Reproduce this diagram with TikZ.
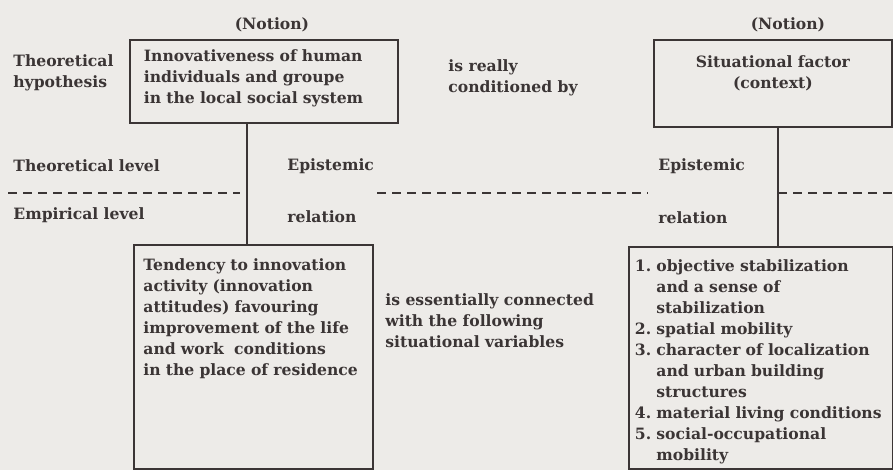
\documentclass[tikz,border=0pt]{standalone}
\usepackage{fontspec}
\setmainfont{DejaVu Serif}
\usetikzlibrary{positioning,backgrounds}
\definecolor{hyPaper}{HTML}{EDEBE8}
\definecolor{hyInk}{HTML}{3B3535}
\newcommand\contind{\hphantom{1.\ }}
\tikzset{
  hy-text/.style={font=\fontsize{7.8}{10.5}\selectfont\bfseries,
    text=hyInk, inner sep=0pt, align=left},
  hy-box/.style={hy-text, draw=hyInk, line width=0.9pt, anchor=north west,
    inner xsep=6pt, inner ysep=6pt},
  hy-note/.style={hy-text, anchor=west},
  hy-link/.style={draw=hyInk, line width=1.4pt},
  hy-sep/.style={draw=hyInk, line width=1pt, dash pattern=on 4.5pt off 3pt}
}

\begin{document}
\begin{tikzpicture}[x=0.5pt, y=-0.5pt]
\useasboundingbox (0,0) rectangle (893,470);
\fill[hyPaper] (0,0) rectangle (893,470);

% notions (theoretical level)
\node[hy-box, inner xsep=7pt, inner ysep=5pt, text width=120pt,
  text depth=25.8pt] (innov) at (129,39)
  {Innovativeness of human\\ individuals and groupe\\
  in the local social system};
\node[hy-box, inner ysep=8pt, text width=107pt, text depth=21.8pt,
  align=center] (situ) at (653,39) {Situational factor\\ (context)};
\node[hy-text, above=3.5pt of innov.north, xshift=4pt] (notionL) {(Notion)};
\node[hy-text, above=3.5pt of situ.north, xshift=7.5pt] (notionR) {(Notion)};

% indicators (empirical level)
\node[hy-box, inner xsep=4.75pt, inner ysep=7pt, text width=110pt,
  text depth=92.3pt] (tend) at (133,244)
  {Tendency to innovation\\ activity (innovation\\ attitudes) favouring\\
  improvement of the life\\ and work\ \ conditions\\ in the place of residence};
\node[hy-box, inner xsep=3pt, inner ysep=6.5pt, text width=126pt,
  text depth=92.1pt] (vars) at (628,246)
  {1.\ objective stabilization\\ \contind and a sense of\\
  \contind stabilization\\ 2.\ spatial mobility\\
  3.\ character of localization\\ \contind and urban building\\
  \contind structures\\ 4.\ material living conditions\\
  5.\ social-occupational\\ \contind mobility};

% side notes
\node[hy-note] (hypo) at (13,73) {Theoretical\\ hypothesis};
\node[hy-note] (really) at (448,78) {is really\\ conditioned by};
\node[hy-note] (theolvl) at (13,166) {Theoretical level};
\node[hy-note] (emplvl) at (13,215) {Empirical level};
\node[hy-note] (epiL) at (287,166) {Epistemic};
\node[hy-note] (relL) at (287,217) {relation};
\node[hy-note] (epiR) at (658,166) {Epistemic};
\node[hy-note] (relR) at (658,218) {relation};
\node[hy-note] (essent) at (385,321)
  {is essentially connected\\ with the following\\ situational variables};

% epistemic relations
\coordinate (axL) at (247,0);
\coordinate (axR) at (778,0);
\draw[hy-link] (innov.south -| axL) -- (tend.north -| axL);
\draw[hy-link] (situ.south -| axR) -- (vars.north -| axR);

% level border
\draw[hy-sep] (8,193) -- (240,193);
\draw[hy-sep] (377,193) -- (648,193);
\draw[hy-sep] (778,193) -- (893,193);
\end{tikzpicture}
\end{document}
